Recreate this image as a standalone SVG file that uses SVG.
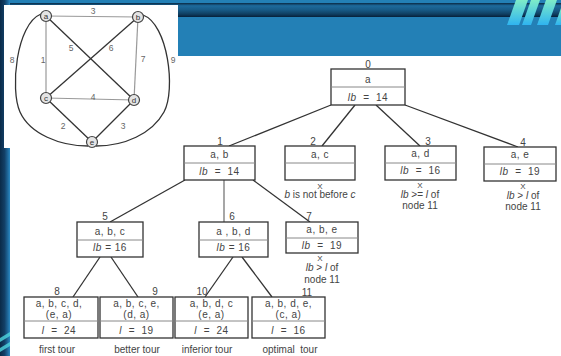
<svg xmlns="http://www.w3.org/2000/svg" width="561" height="356" viewBox="0 0 561 356">
<defs>
<linearGradient id="band" x1="0" y1="0" x2="0" y2="1">
<stop offset="0" stop-color="#0a2a44"/>
<stop offset="0.2" stop-color="#1d6a9c"/>
<stop offset="0.5" stop-color="#175a86"/>
<stop offset="0.8" stop-color="#0f3e60"/>
<stop offset="1" stop-color="#06203a"/>
</linearGradient>
<linearGradient id="left" x1="0" y1="0" x2="1" y2="0">
<stop offset="0" stop-color="#0a2a48"/>
<stop offset="0.45" stop-color="#123f66"/>
<stop offset="0.7" stop-color="#1c5e8e"/>
<stop offset="1" stop-color="#2a88c2"/>
</linearGradient>
<linearGradient id="slash" x1="0" y1="0" x2="0" y2="1">
<stop offset="0" stop-color="#7eecc8"/>
<stop offset="1" stop-color="#2fb4f0"/>
</linearGradient>
</defs>
<style>
.t{font-family:"Liberation Sans",Arial,sans-serif;font-size:10px;fill:#444;text-anchor:middle;letter-spacing:0.5px}
.n{font-family:"Liberation Sans",Arial,sans-serif;font-size:10px;fill:#444;text-anchor:middle}
.x{font-family:"Liberation Sans",Arial,sans-serif;font-size:8px;fill:#444;text-anchor:middle}
.s{font-family:"Liberation Sans",Arial,sans-serif;font-size:8.5px;fill:#666;text-anchor:middle}
.v{font-family:"Liberation Sans",Arial,sans-serif;font-size:8px;fill:#333;text-anchor:middle}
.i{font-style:italic}
.box{fill:#fff;stroke:#333;stroke-width:1.3}
.div{stroke:#888;stroke-width:1}
.e{stroke:#333;stroke-width:1.3;fill:none}
.g{stroke:#999;stroke-width:1.2;fill:none}
.vc{fill:#e4e4e4;stroke:#444;stroke-width:1.2}
</style>
<!-- background -->
<rect x="0" y="0" width="561" height="356" fill="#2380b6"/>
<rect x="0" y="3" width="561" height="14" fill="url(#band)"/>
<rect x="0" y="0" width="10" height="356" fill="url(#left)"/>
<rect x="10" y="56" width="551" height="300" fill="#fff"/>
<g fill="url(#slash)">
<polygon points="507,25 519,25 528,0 516,0"/>
<polygon points="522,25 531,25 540,0 531,0"/>
<polygon points="537,25 548,25 557,0 546,0"/>
<polygon points="555,25 561,25 561,8"/>
</g>
<g fill="#4fd6e0" opacity="0.8">
<polygon points="0,338 10,332 10,336 0,342"/>
<polygon points="0,348 10,342 10,346 0,352"/>
</g>
<!-- inset graph -->
<rect x="4" y="5" width="174" height="143" fill="#fff"/>
<g id="inset-edges">
<line class="g" x1="46" y1="16" x2="138" y2="17"/>
<line class="g" x1="46" y1="16" x2="46" y2="98"/>
<line class="g" x1="138" y1="17" x2="134" y2="100"/>
<line class="g" x1="46" y1="98" x2="134" y2="100"/>
<line class="e" x1="46" y1="16" x2="134" y2="100"/>
<line class="e" x1="138" y1="17" x2="46" y2="98"/>
<line class="e" x1="46" y1="98" x2="92" y2="142"/>
<line class="e" x1="134" y1="100" x2="92" y2="142"/>
<path class="e" d="M41,14 C16,24 10,90 20,112 C30,134 60,146 88,146"/>
<path class="e" d="M143,15 C168,24 176,90 164,112 C152,134 124,146 96,146"/>
<text class="s" x="93" y="14">3</text>
<text class="s" x="43" y="63">1</text>
<text class="s" x="143" y="62">7</text>
<text class="s" x="93" y="100">4</text>
<text class="s" x="71" y="51">5</text>
<text class="s" x="111" y="51">6</text>
<text class="s" x="63" y="129">2</text>
<text class="s" x="123" y="129">3</text>
<text class="s" x="12" y="63">8</text>
<text class="s" x="173" y="63">9</text>
</g>
<g id="va"><circle class="vc" cx="46" cy="16" r="5.5"/><text class="v" x="46" y="19">a</text></g>
<g id="vb"><circle class="vc" cx="138" cy="17" r="5.5"/><text class="v" x="138" y="20">b</text></g>
<g id="vc"><circle class="vc" cx="46" cy="98" r="5.5"/><text class="v" x="46" y="101">c</text></g>
<g id="vd"><circle class="vc" cx="134" cy="100" r="5.5"/><text class="v" x="134" y="103">d</text></g>
<g id="ve"><circle class="vc" cx="92" cy="142" r="5.5"/><text class="v" x="92" y="145">e</text></g>
<!-- connectors -->
<g id="connectors">
<line class="e" x1="331" y1="105" x2="229" y2="146"/>
<line class="e" x1="355" y1="105" x2="322" y2="146"/>
<line class="e" x1="376" y1="105" x2="420" y2="146"/>
<line class="e" x1="405" y1="105" x2="518" y2="147"/>
<line class="e" x1="185" y1="180" x2="110" y2="222"/>
<line class="e" x1="224" y1="180" x2="224" y2="222" style="stroke:#777"/>
<line class="e" x1="253" y1="180" x2="310" y2="222"/>
<line class="e" x1="100" y1="257" x2="73" y2="297"/>
<line class="e" x1="111" y1="257" x2="138" y2="297"/>
<line class="e" x1="233" y1="257" x2="205" y2="297"/>
<line class="e" x1="242" y1="257" x2="272" y2="297"/>
</g>
<!-- tree nodes -->
<g id="node0">
<text class="n" x="368" y="68">0</text>
<rect class="box" x="331" y="69" width="74" height="36"/>
<line class="div" x1="331" y1="87" x2="405" y2="87"/>
<text class="t" x="368" y="83">a</text>
<text class="t" x="368" y="101" xml:space="preserve"><tspan class="i">lb</tspan>  =  14</text>
</g>
<g id="node1">
<text class="n" x="220" y="145">1</text>
<rect class="box" x="184" y="146" width="71" height="34"/>
<line class="div" x1="184" y1="163" x2="255" y2="163"/>
<text class="t" x="219.5" y="158">a, b</text>
<text class="t" x="219.5" y="175" xml:space="preserve"><tspan class="i">lb</tspan>  =  14</text>
</g>
<g id="node2">
<text class="n" x="313" y="145">2</text>
<rect class="box" x="285" y="146" width="70" height="34"/>
<line class="div" x1="285" y1="163" x2="355" y2="163"/>
<text class="t" x="320" y="158">a, c</text>
<text class="x" x="320" y="188.5">X</text>
<text class="n" x="320" y="198"><tspan class="i">b</tspan> is not before <tspan class="i">c</tspan></text>
</g>
<g id="node3">
<text class="n" x="428" y="145">3</text>
<rect class="box" x="385" y="146" width="71" height="34"/>
<line class="div" x1="385" y1="163" x2="456" y2="163"/>
<text class="t" x="420.5" y="157">a, d</text>
<text class="t" x="420.5" y="174" xml:space="preserve"><tspan class="i">lb</tspan>  =  16</text>
<text class="x" x="420" y="188">X</text>
<text class="n" x="420" y="197.5"><tspan class="i">lb</tspan> &gt;= <tspan class="i">l</tspan> of</text>
<text class="n" x="420" y="209">node 11</text>
</g>
<g id="node4">
<text class="n" x="523" y="146">4</text>
<rect class="box" x="484" y="147" width="72" height="34"/>
<line class="div" x1="484" y1="164" x2="556" y2="164"/>
<text class="t" x="520" y="158">a, e</text>
<text class="t" x="520" y="175" xml:space="preserve"><tspan class="i">lb</tspan>  =  19</text>
<text class="x" x="523" y="189">X</text>
<text class="n" x="523" y="198.5"><tspan class="i">lb</tspan> &gt; <tspan class="i">l</tspan> of</text>
<text class="n" x="523" y="210">node 11</text>
</g>
<g id="node5">
<text class="n" x="105" y="220">5</text>
<rect class="box" x="77" y="222" width="66" height="35"/>
<line class="div" x1="77" y1="240" x2="143" y2="240"/>
<text class="t" x="110" y="235">a, b, c</text>
<text class="t" x="110" y="251"><tspan class="i">lb</tspan>  = 16</text>
</g>
<g id="node6">
<text class="n" x="232" y="220">6</text>
<rect class="box" x="199" y="222" width="69" height="35"/>
<line class="div" x1="199" y1="240" x2="268" y2="240"/>
<text class="t" x="233.5" y="235">a , b, d</text>
<text class="t" x="233.5" y="251"><tspan class="i">lb</tspan>  = 16</text>
</g>
<g id="node7">
<text class="n" x="309" y="220">7</text>
<rect class="box" x="286" y="222" width="72" height="31"/>
<line class="div" x1="286" y1="238" x2="358" y2="238"/>
<text class="t" x="322" y="233">a, b, e</text>
<text class="t" x="322" y="249" xml:space="preserve"><tspan class="i">lb</tspan>  =  19</text>
<text class="x" x="320" y="261">X</text>
<text class="n" x="322" y="271"><tspan class="i">lb</tspan> &gt; <tspan class="i">l</tspan> of</text>
<text class="n" x="322" y="283">node 11</text>
</g>
<g id="node8">
<text class="n" x="57" y="295">8</text>
<rect class="box" x="24" y="297" width="74" height="41"/>
<line class="div" x1="24" y1="321" x2="98" y2="321"/>
<text class="t" x="59" y="307">a, b, c, d,</text>
<text class="t" x="59" y="318">(e, a)</text>
<text class="t" x="59" y="334" xml:space="preserve"><tspan class="i">l</tspan>  =  24</text>
<text class="n" x="57" y="353">first tour</text>
</g>
<g id="node9">
<text class="n" x="155" y="295">9</text>
<rect class="box" x="100" y="297" width="73" height="41"/>
<line class="div" x1="100" y1="321" x2="173" y2="321"/>
<text class="t" x="136.5" y="307">a, b, c, e,</text>
<text class="t" x="136.5" y="318">(d, a)</text>
<text class="t" x="136.5" y="334" xml:space="preserve"><tspan class="i">l</tspan>  =  19</text>
<text class="n" x="137" y="353">better tour</text>
</g>
<g id="node10">
<text class="n" x="202" y="295">10</text>
<rect class="box" x="175" y="297" width="73" height="41"/>
<line class="div" x1="175" y1="321" x2="248" y2="321"/>
<text class="t" x="211.5" y="307">a, b, d, c</text>
<text class="t" x="211.5" y="318">(e, a)</text>
<text class="t" x="211.5" y="334" xml:space="preserve"><tspan class="i">l</tspan>  =  24</text>
<text class="n" x="207" y="353">inferior tour</text>
</g>
<g id="node11">
<text class="n" x="307" y="295.5">11</text>
<rect class="box" x="252" y="297" width="73" height="41"/>
<line class="div" x1="252" y1="321" x2="325" y2="321"/>
<text class="t" x="288.5" y="307">a, b, d, e,</text>
<text class="t" x="288.5" y="318">(c, a)</text>
<text class="t" x="288.5" y="334" xml:space="preserve"><tspan class="i">l</tspan>  =  16</text>
<text class="n" x="290" y="353" xml:space="preserve">optimal  tour</text>
</g>
</svg>
